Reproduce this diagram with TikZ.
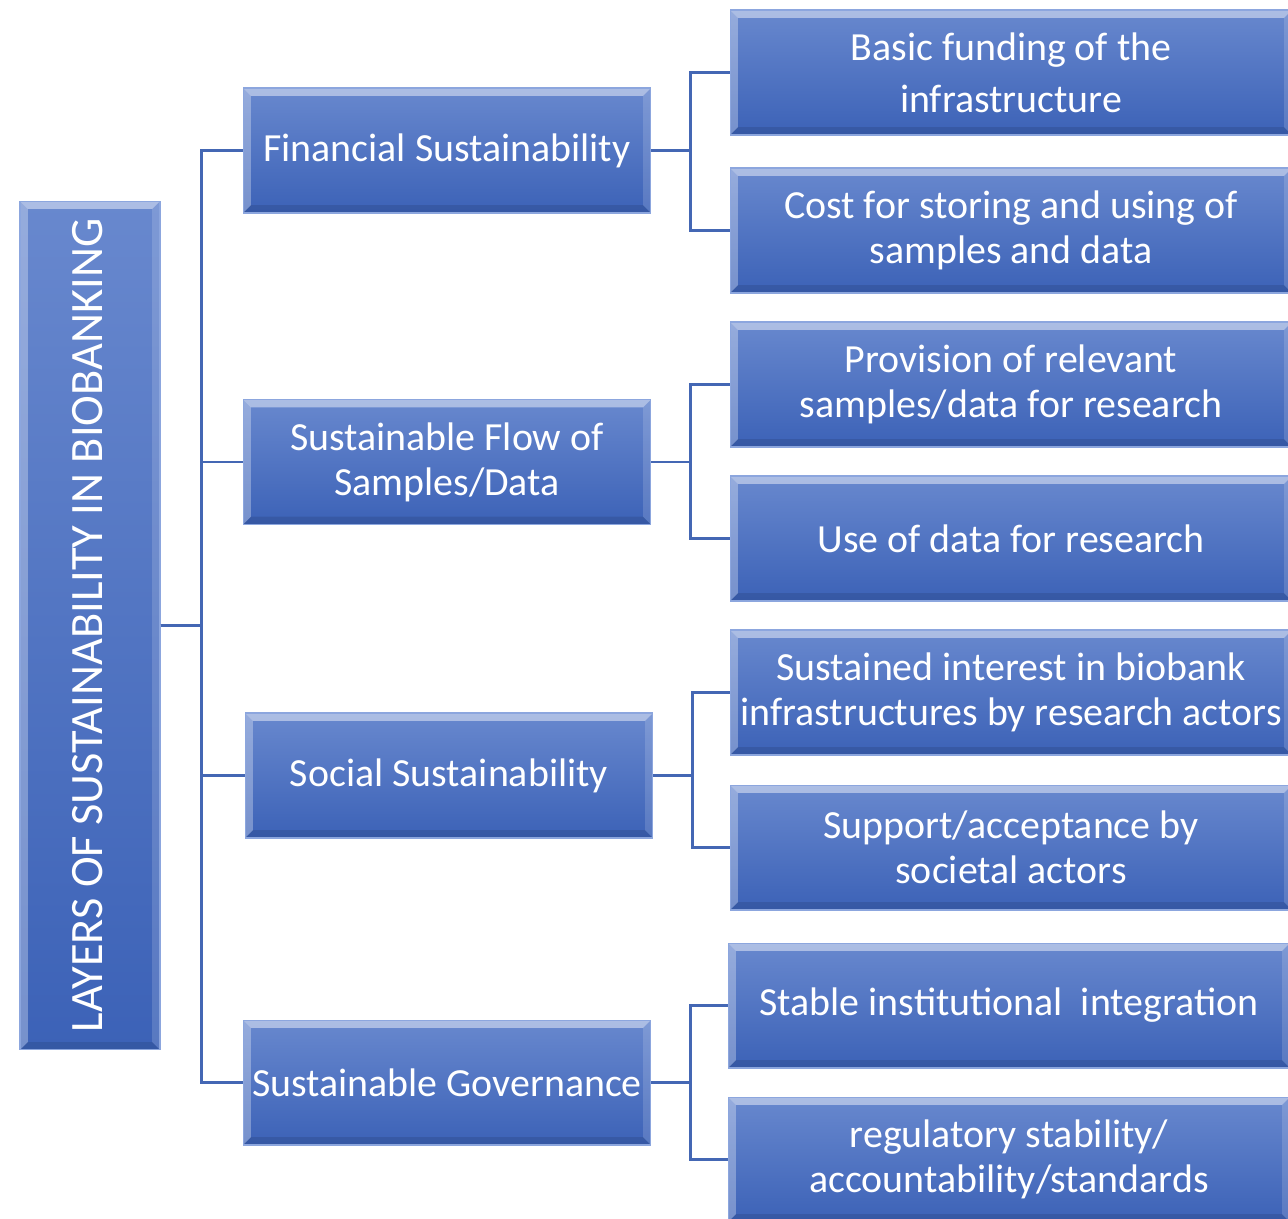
\documentclass[tikz,border=0pt]{standalone}
\usepackage{fontspec}
\setmainfont{Carlito}
\usetikzlibrary{positioning, calc}
\definecolor{boxtop}{RGB}{104,136,206}
\definecolor{boxbottom}{RGB}{60,98,183}
\definecolor{boxedge}{RGB}{140,166,222}
\definecolor{linkblue}{RGB}{68,103,180}

% bevelled edges drawn inside every box
\newcommand{\bevelfx}{%
  \fill[white,opacity=0.45] (path picture bounding box.north west) -- (path picture bounding box.north east)
    -- ([xshift=-4.5pt,yshift=-4.5pt]path picture bounding box.north east) -- ([xshift=4.5pt,yshift=-4.5pt]path picture bounding box.north west) -- cycle;
  \fill[white,opacity=0.3] (path picture bounding box.north west) -- ([xshift=4.5pt,yshift=-4.5pt]path picture bounding box.north west)
    -- ([xshift=4.5pt,yshift=4.5pt]path picture bounding box.south west) -- (path picture bounding box.south west) -- cycle;
  \fill[white,opacity=0.15] (path picture bounding box.north east) -- ([xshift=-4.5pt,yshift=-4.5pt]path picture bounding box.north east)
    -- ([xshift=-4.5pt,yshift=4.5pt]path picture bounding box.south east) -- (path picture bounding box.south east) -- cycle;
  \fill[black,opacity=0.1] (path picture bounding box.south west) -- ([xshift=4.5pt,yshift=4.5pt]path picture bounding box.south west)
    -- ([xshift=-4.5pt,yshift=4.5pt]path picture bounding box.south east) -- (path picture bounding box.south east) -- cycle;
}

\tikzset{
  box/.style={rectangle, draw=boxedge, line width=0.6pt, top color=boxtop, bottom color=boxbottom,
    text=white, align=center, inner sep=0pt, path picture={\bevelfx}},
  root/.style={box, minimum width=2.8cm, minimum height=16.98cm},
  layer/.style={box, minimum width=8.16cm, minimum height=2.5cm, font=\fontsize{22.7}{25.5}\selectfont},
  item/.style={box, minimum width=11.24cm, minimum height=2.5cm, font=\fontsize{22.7}{25.5}\selectfont},
  link/.style={draw=linkblue, line width=1.6pt}
}

\begin{document}
\begin{tikzpicture}[x=0.02cm, y=-0.02cm]
  \useasboundingbox (0,0) rectangle (1288,1218);

  \node[root] (root) at (90,625.5) {};
  \node[rotate=90, text=white, font=\fontsize{26.4}{30}\selectfont] (roottext) at ([xshift=-1.5pt]root.center) {LAYERS OF SUSTAINABILITY IN BIOBANKING};

  % second level
  \node[layer] (fin) at (447,150.5) {Financial Sustainability};
  \node[layer] (flow) at (447,462) {Sustainable Flow of\\Samples/Data};
  \node[layer] (soc) at (449,775.5) {Social Sustainability};
  \node[layer] (gov) at (447,1082.5) {Sustainable Governance};

  % third level
  \node[item, font=\fontsize{22.7}{29.5}\selectfont] (basic) at (1011,72.5) {Basic funding of the\\infrastructure};
  \node[item] (cost) at (1011,230.5) {Cost for storing and using of\\samples and data};
  \node[item] (prov) at (1011,384.5) {Provision of relevant\\samples/data for research};
  \node[item] (use) at (1011,538.5) {Use of data for research};
  \node[item] (interest) at (1011,692.5) {Sustained interest in biobank\\infrastructures by research actors};
  \node[item] (support) at (1011,847.5) {Support/acceptance by\\societal actors};
  \node[item] (stable) at (1009,1005.5) {Stable institutional\ \ integration};
  \node[item] (reg) at (1009,1159.5) {regulatory stability/\\accountability/standards};

  % connectors
  \foreach \l in {fin, flow, soc, gov}
    \draw[link] (root.east) -- ++(41,0) |- (\l.west);
  \foreach \l/\a/\b in {fin/basic/cost, flow/prov/use, soc/interest/support, gov/stable/reg} {
    \draw[link] (\l.east) -- ++(39,0) |- (\a.west);
    \draw[link] (\l.east) -- ++(39,0) |- (\b.west);
  }
\end{tikzpicture}
\end{document}
